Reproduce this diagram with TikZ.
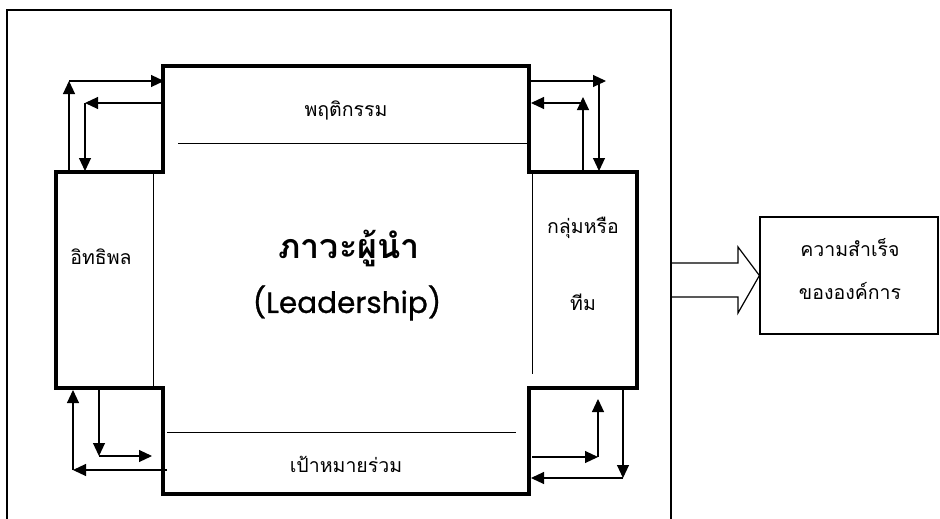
\documentclass[tikz,border=0pt]{standalone}
\usepackage{fontspec}
\newfontfamily\thaifont[Script=Thai]{Loma}
\newfontfamily\latinfont[FakeBold=0.8]{Poppins}
\usetikzlibrary{arrows.meta}
\tikzset{
  flow/.style={-{Triangle[length=13pt,width=12pt]}, line width=1.1pt},
  thaitext/.style={font=\thaifont\fontsize{19.5}{22}\selectfont},
}
\begin{document}
\begin{tikzpicture}[x=1pt,y=-1pt]
    \useasboundingbox (0,0) rectangle (940,519) ;
    % outer frame
    \draw[line width=1.3pt] (7,519) -- (7,10) -- (671,10) -- (671,519) ;
    % cross shaped box
    \draw[line width=4pt, line join=miter] (163,66) -- (529,66) -- (529,172) -- (637,172)
      -- (637,388) -- (529,388) -- (529,494) -- (163,494) -- (163,388) -- (56,388)
      -- (56,172) -- (163,172) -- cycle ;
    \draw[line width=1pt] (178,143) -- (529,143) ;
    \draw[line width=1pt] (153,172) -- (153,388) ;
    \draw[line width=1pt] (532,172) -- (532,374) ;
    \draw[line width=1pt] (167,432) -- (516,432) ;
    % corner arrows
    \draw[flow] (69,172) -- (69,81) ;
    \draw[flow] (69,81) -- (164,81) ;
    \draw[flow] (163,103) -- (85,103) ;
    \draw[flow] (85,103) -- (85,171) ;
    \draw[flow] (531,81) -- (606,81) ;
    \draw[flow] (599,81) -- (599,171) ;
    \draw[flow] (583,172) -- (583,97) ;
    \draw[flow] (581,103) -- (531,103) ;
    \draw[flow] (73,470) -- (73,390) ;
    \draw[flow] (167,470) -- (73,470) ;
    \draw[flow] (99,388) -- (99,456) ;
    \draw[flow] (99,456) -- (152,456) ;
    \draw[flow] (532,457) -- (598,457) ;
    \draw[flow] (598,457) -- (598,399) ;
    \draw[flow] (623,388) -- (623,478) ;
    \draw[flow] (623,478) -- (531,478) ;
    % labels
    \node[thaitext] (behav) at (346,110) {พฤติกรรม} ;
    \node[thaitext] (influ) at (101,257) {อิทธิพล} ;
    \node[thaitext] (group) at (583,228) {กลุ่มหรือ} ;
    \node[thaitext] (team) at (583,302) {ทีม} ;
    \node[thaitext] (goal) at (346,464) {เป้าหมายร่วม} ;
    \node[font=\thaifont\bfseries\fontsize{34}{38}\selectfont] (lead) at (349,248) {ภาวะผู้นำ} ;
    \node[font=\latinfont\fontsize{29.5}{32}\selectfont] (leaden) at (347,303) {(Leadership)} ;
    % result
    \node[draw, line width=1.2pt, minimum width=178pt, minimum height=117pt] (success) at (849,275.5) {} ;
    \node[thaitext] (succa) at (850,248) {ความสำเร็จ} ;
    \node[thaitext] (succb) at (850,291) {ขององค์การ} ;
    \draw[line width=1.2pt, line join=miter] (672,263) -- (738,263) -- (738,247) -- (success.west)
      -- (738,313) -- (738,297) -- (672,297) ;
\end{tikzpicture}
\end{document}
